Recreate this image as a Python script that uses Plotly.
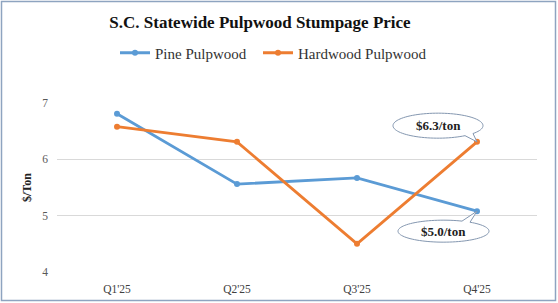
import numpy as np
import plotly.graph_objects as go

quarters = ["Q1'25", "Q2'25", "Q3'25", "Q4'25"]
pine = [6.81, 5.56, 5.67, 5.08]
hardwood = [6.58, 6.31, 4.50, 6.31]
yticks = [4, 5, 6, 7]
callout_hw = "$6.3/ton"
callout_pine = "$5.0/ton"

W, H = 558, 303
ML, MR, MT, MB = 57, 21, 103, 31
pw, ph = W - ML - MR, H - MT - MB

xidx = list(range(len(quarters)))
BLUE = "#5B9BD5"
ORANGE = "#ED7D31"
FONT = '"Liberation Serif", "Times New Roman", serif'

fig = go.Figure()
fig.add_trace(go.Scatter(x=xidx, y=pine, name="Pine Pulpwood", mode="lines+markers", legend="legend",
                         line=dict(color=BLUE, width=2.8), marker=dict(size=6, color=BLUE)))
fig.add_trace(go.Scatter(x=xidx, y=hardwood, name="Hardwood Pulpwood", mode="lines+markers", legend="legend2",
                         line=dict(color=ORANGE, width=2.8), marker=dict(size=6, color=ORANGE)))


def bubble_path(cx, cy, a, b, base1, base2, tip, top):
    def ey(x):
        t = max(0.0, 1 - ((x - cx) / a) ** 2)
        return cy + (b if top else -b) * np.sqrt(t)

    def ang(x):
        y = ey(x)
        return np.arctan2((y - cy) / b, (x - cx) / a)
    a1, a2 = ang(base1), ang(base2)
    d = (a1 - a2) % (2 * np.pi)
    end = a2 + d if d > np.pi else a2 + d - 2 * np.pi
    ts = np.linspace(a2, end, 90)
    pts = [(cx + a * np.cos(t), cy + b * np.sin(t)) for t in ts]
    s = "M %.2f,%.2f " % (tip[0], tip[1])
    s += " ".join("L %.2f,%.2f" % p for p in pts)
    s += " Z"
    return s


p1 = bubble_path(cx=-39, cy=16.2, a=45, b=12.5, base1=-12, base2=-4, tip=(0, 0), top=False)
p2 = bubble_path(cx=-33.5, cy=-20, a=45.5, b=11, base1=-15, base2=-7, tip=(0, 0), top=True)

shapes = [
    dict(type="path", xref="x", yref="y", xsizemode="pixel", ysizemode="pixel",
         xanchor=xidx[-1], yanchor=hardwood[-1], path=p1,
         line=dict(color="#8497B0", width=1), fillcolor="white", layer="above"),
    dict(type="path", xref="x", yref="y", xsizemode="pixel", ysizemode="pixel",
         xanchor=xidx[-1], yanchor=pine[-1], path=p2,
         line=dict(color="#8497B0", width=1), fillcolor="white", layer="above"),
    dict(type="rect", xref="paper", yref="paper",
         x0=(1.5 - ML) / pw, x1=(W - 2.5 - ML) / pw,
         y0=((H - MB) - (H - 2.5)) / ph, y1=((H - MB) - 1.5) / ph,
         line=dict(color="#8EA4C0", width=1.5), layer="below"),
]

annotations = [
    dict(x=xidx[-1], y=hardwood[-1], xref="x", yref="y", text="<b>%s</b>" % callout_hw,
         showarrow=False, xshift=-39, yshift=16.2, font=dict(family=FONT, size=13, color="#222")),
    dict(x=xidx[-1], y=pine[-1], xref="x", yref="y", text="<b>%s</b>" % callout_pine,
         showarrow=False, xshift=-33.5, yshift=-20, font=dict(family=FONT, size=13, color="#222")),
]

leg_common = dict(orientation="h", xanchor="left", y=1 + (MT - 53) / ph, yanchor="middle",
                  font=dict(family=FONT, size=15, color="#333"), itemwidth=30,
                  bgcolor="rgba(0,0,0,0)")

fig.update_layout(
    width=W, height=H,
    margin=dict(l=ML, r=MR, t=MT, b=MB, pad=0, autoexpand=False),
    paper_bgcolor="white", plot_bgcolor="white",
    font=dict(family=FONT, color="#595959"),
    title=dict(text="<b>S.C. Statewide Pulpwood Stumpage Price</b>", x=260 / W, xanchor="center",
               y=1 - 22 / H, yanchor="middle", font=dict(family=FONT, size=17, color="#111")),
    legend=dict(x=(115 - ML) / pw, **leg_common),
    legend2=dict(x=(258 - ML) / pw, **leg_common),
    xaxis=dict(range=[-0.5, 3.5], tickvals=xidx, ticktext=quarters, showgrid=False,
               zeroline=False, showline=False, ticks="", tickfont=dict(family=FONT, size=11.5, color="#404040"),
               ticklabelstandoff=8, automargin=False, fixedrange=True),
    yaxis=dict(range=[4, 7], tickvals=yticks, showgrid=True, gridcolor="#D9D9D9", gridwidth=1,
               zeroline=False, showline=False, ticks="", tickfont=dict(family=FONT, size=11.5, color="#595959"),
               ticklabelstandoff=8, automargin=False,
               title=dict(text="<b>$/Ton</b>", font=dict(family=FONT, size=12, color="#222"), standoff=8)),
    shapes=shapes, annotations=annotations, showlegend=True,
)

fig.write_html("out.html")
